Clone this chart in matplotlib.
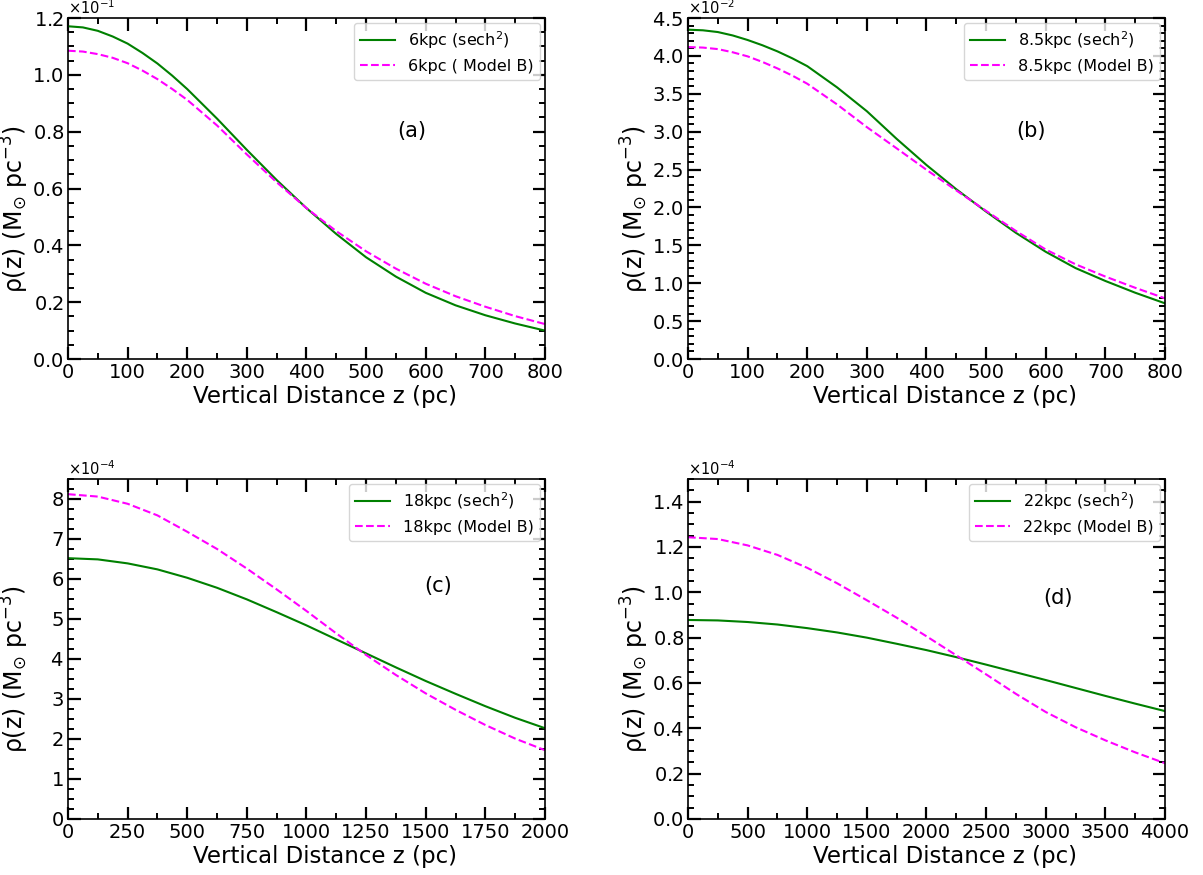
"""Vertical density profiles: sech^2 vs Model B"""
import matplotlib
matplotlib.use("Agg")
import matplotlib.pyplot as plt
from matplotlib.ticker import MultipleLocator, ScalarFormatter

# ---- data (y in units of the offset power) ----
z_a = [0, 25, 50, 75, 100, 125, 150, 175, 200, 250, 300, 350, 400, 450, 500, 550, 600,
       650, 700, 750, 800]
sech_a = [1.171, 1.167, 1.155, 1.135, 1.110, 1.077, 1.040, 0.997, 0.950, 0.846, 0.736,
          0.630, 0.531, 0.440, 0.358, 0.290, 0.233, 0.189, 0.154, 0.125, 0.100]
modb_a = [1.085, 1.082, 1.073, 1.060, 1.041, 1.015, 0.985, 0.950, 0.912, 0.822, 0.720,
          0.622, 0.531, 0.450, 0.379, 0.318, 0.265, 0.221, 0.184, 0.151, 0.123]

z_b = z_a
sech_b = [4.346, 4.338, 4.315, 4.270, 4.210, 4.140, 4.060, 3.968, 3.865, 3.585, 3.270,
          2.905, 2.560, 2.240, 1.945, 1.665, 1.415, 1.200, 1.030, 0.875, 0.735]
modb_b = [4.117, 4.110, 4.090, 4.048, 3.994, 3.920, 3.835, 3.740, 3.633, 3.360, 3.060,
          2.780, 2.497, 2.225, 1.955, 1.690, 1.445, 1.250, 1.088, 0.940, 0.801]

z_c = [0, 125, 250, 375, 500, 625, 750, 875, 1000, 1125, 1250, 1375, 1500, 1625, 1750,
       1875, 2000]
sech_c = [6.52, 6.49, 6.39, 6.24, 6.03, 5.78, 5.49, 5.17, 4.84, 4.49, 4.14, 3.79, 3.45,
          3.13, 2.82, 2.53, 2.27]
modb_c = [8.12, 8.06, 7.88, 7.59, 7.18, 6.75, 6.26, 5.74, 5.20, 4.64, 4.10, 3.60, 3.14,
          2.73, 2.35, 2.01, 1.72]

z_d = [0, 250, 500, 750, 1000, 1250, 1500, 1750, 2000, 2250, 2500, 2750, 3000, 3250,
       3500, 3750, 4000]
sech_d = [0.878, 0.876, 0.869, 0.858, 0.842, 0.823, 0.800, 0.773, 0.745, 0.714, 0.681,
          0.647, 0.613, 0.578, 0.543, 0.509, 0.476]
modb_d = [1.243, 1.235, 1.207, 1.165, 1.108, 1.040, 0.965, 0.888, 0.806, 0.722, 0.638,
          0.552, 0.472, 0.405, 0.347, 0.294, 0.246]

panels = [
    # z, sech, modelB, power, name, label B, tag, xlim, xmaj, xmin, ylim, ymaj, ymin, tag pos
    (z_a, sech_a, modb_a, -1, "6kpc", "6kpc ( Model B)", "(a)", 800, 100, 50, 1.2, 0.2, 0.05, (0.72, 0.67)),
    (z_b, sech_b, modb_b, -2, "8.5kpc", "8.5kpc (Model B)", "(b)", 800, 100, 50, 4.5, 0.5, 0.1, (0.72, 0.67)),
    (z_c, sech_c, modb_c, -4, "18kpc", "18kpc (Model B)", "(c)", 2000, 250, 125, 8.5, 1, 0.25, (0.775, 0.685)),
    (z_d, sech_d, modb_d, -4, "22kpc", "22kpc (Model B)", "(d)", 4000, 500, 250, 1.5, 0.2, 0.05, (0.775, 0.65)),
]

plt.rcParams["font.family"] = "DejaVu Sans"

fig = plt.figure(figsize=(12.03, 8.75), dpi=100)
rects = [
    [0.0565, 0.5897, 0.3965, 0.3897],
    [0.5719, 0.5897, 0.3965, 0.3897],
    [0.0565, 0.0640, 0.3965, 0.3886],
    [0.5719, 0.0640, 0.3965, 0.3886],
]

for rect, (z, s, m, p, name, lab_b, tag, xmax, xmaj, xmin, ymax, ymaj, ymin, tpos) in zip(rects, panels):
    ax = fig.add_axes(rect)
    scale = 10.0 ** p
    ax.plot(z, [v * scale for v in s], color="green", lw=1.5, label=name + " (sech$^2$)")
    ax.plot(z, [v * scale for v in m], color="magenta", lw=1.5, ls="--", label=lab_b)

    ax.set_xlim(0, xmax)
    ax.set_ylim(0, ymax * scale)
    ax.xaxis.set_major_locator(MultipleLocator(xmaj))
    ax.xaxis.set_minor_locator(MultipleLocator(xmin))
    ax.yaxis.set_major_locator(MultipleLocator(ymaj * scale))
    ax.yaxis.set_minor_locator(MultipleLocator(ymin * scale))

    fmt = ScalarFormatter(useMathText=True)
    fmt.set_powerlimits((0, 0))
    ax.yaxis.set_major_formatter(fmt)
    ax.yaxis.offsetText.set_fontsize(10.5)

    ax.tick_params(which="both", direction="in", top=True, right=True, labelsize=14, pad=3)
    ax.tick_params(which="major", length=9, width=1.6)
    ax.tick_params(which="minor", length=4.5, width=1.4)
    for sp in ax.spines.values():
        sp.set_linewidth(1.2)

    ax.set_xlabel("Vertical Distance z (pc)", fontsize=16.5)
    ax.set_ylabel("ρ(z) (M$_{\\odot}$ pc$^{-3}$)", fontsize=17)
    ax.xaxis.set_label_coords(0.538, -0.077)
    ax.yaxis.set_label_coords(-0.078, 0.44)
    ax.text(tpos[0], tpos[1], tag, transform=ax.transAxes, fontsize=15, ha="center", va="center")
    ax.legend(loc="upper right", fontsize=11.5, handlelength=2.2, borderaxespad=0.3)

fig.savefig("out.png", dpi=100)
